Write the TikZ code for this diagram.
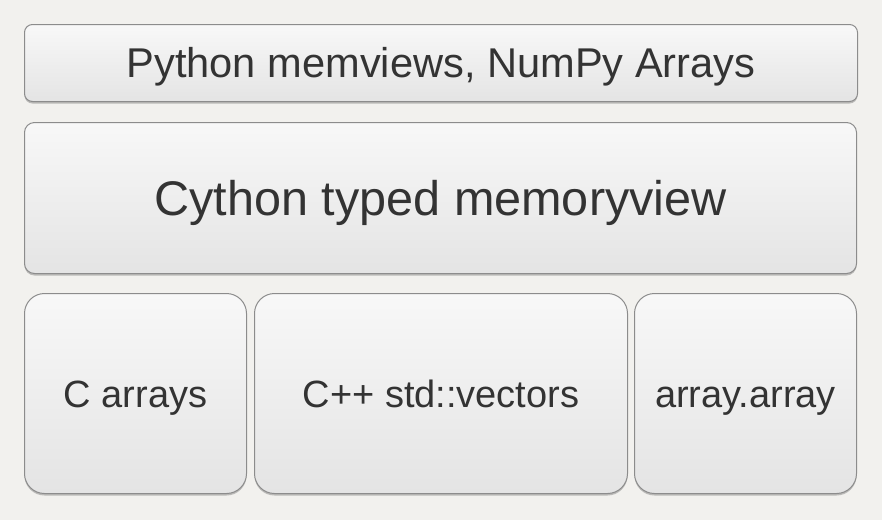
\documentclass[tikz,border=0pt]{standalone}
\usepackage{fontspec}
\setmainfont{Liberation Sans}
\usetikzlibrary{shadows}
\definecolor{bg}{HTML}{F2F1EE}
\definecolor{boxtop}{HTML}{F8F8F8}
\definecolor{boxbot}{HTML}{E4E4E4}
\definecolor{boxline}{HTML}{8C8C8C}
\definecolor{txt}{HTML}{333333}
\tikzset{
  layer/.style={draw=boxline, line width=1pt, top color=boxtop, bottom color=boxbot,
    text=txt, anchor=north west, inner sep=0pt, text depth=0pt,
    drop shadow={shadow xshift=0pt, shadow yshift=-2pt, opacity=0.4, fill=black!60}},
}
\begin{document}
\begin{tikzpicture}[x=1pt,y=-1pt]
\fill[bg] (0,0) rectangle (882,520);
\useasboundingbox (0,0) rectangle (882,520);
\node[layer, rounded corners=8pt, minimum width=833pt, minimum height=77pt, text height=29.8pt,
  font=\fontsize{41.6}{50}\selectfont] (py) at (24,24) {Python memviews, NumPy Arrays};
\node[layer, rounded corners=10pt, minimum width=832pt, minimum height=151pt, text height=34.8pt,
  font=\fontsize{48.6}{58}\selectfont] (cy) at (24,122) {Cython typed memoryview};
\node[layer, rounded corners=20pt, minimum width=222pt, minimum height=200pt, text height=27.2pt,
  font=\fontsize{38}{46}\selectfont] (ca) at (24,293) {C arrays};
\node[layer, rounded corners=20pt, minimum width=373pt, minimum height=200pt, text height=27.2pt,
  font=\fontsize{38}{46}\selectfont] (cpp) at (254,293) {C++ std::vectors};
\node[layer, rounded corners=20pt, minimum width=222pt, minimum height=200pt, text height=27.2pt,
  font=\fontsize{38}{46}\selectfont] (aa) at (634,293) {array.array};
\end{tikzpicture}
\end{document}
